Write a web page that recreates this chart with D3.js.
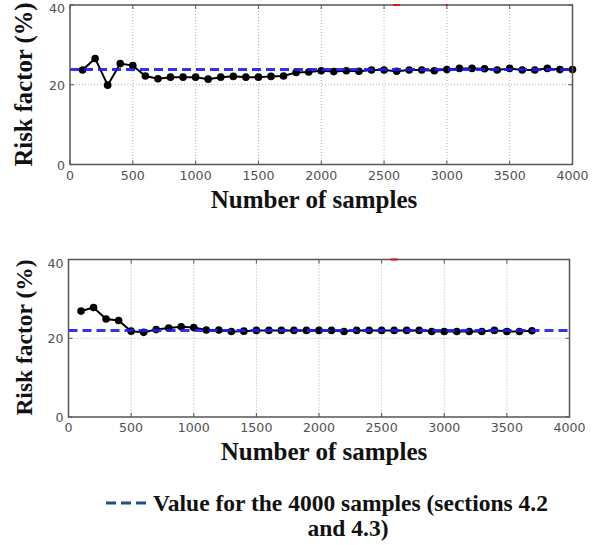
<!DOCTYPE html>
<html>
<head>
<meta charset="utf-8">
<script src="https://cdn.jsdelivr.net/npm/d3@7"></script>
<style>
  body { margin: 0; background: #fff; }
  svg { display: block; }
  .tick-lbl { font-family: "DejaVu Sans", sans-serif; font-size: 12.6px; fill: #505050; }
  .title { font-family: "Liberation Serif", "Times New Roman", Times, serif; font-weight: bold; fill: #111; }
</style>
</head>
<body>
<svg id="chart" width="608" height="545"></svg>
<script>
// sample sizes (x values)
var samplesTop = [100, 200, 300, 400, 500, 600, 700, 800, 900, 1000,
    1100, 1200, 1300, 1400, 1500, 1600, 1700, 1800, 1900, 2000,
    2100, 2200, 2300, 2400, 2500, 2600, 2700, 2800, 2900, 3000,
    3100, 3200, 3300, 3400, 3500, 3600, 3700, 3800, 3900, 4000];
var riskTop = [23.7, 26.6, 19.9, 25.3, 24.8, 22.2, 21.5, 21.9, 21.9, 21.9,
    21.4, 21.9, 22.1, 21.9, 21.9, 22.1, 22.2, 23.1, 23.2, 23.5,
    23.3, 23.5, 23.4, 23.7, 23.7, 23.4, 23.7, 23.7, 23.5, 23.8,
    24.1, 24.1, 24.0, 23.7, 24.1, 23.7, 23.7, 24.1, 23.8, 23.8];
var refTop = 23.8;

var samplesBottom = [100, 200, 300, 400, 500, 600, 700, 800, 900, 1000,
    1100, 1200, 1300, 1400, 1500, 1600, 1700, 1800, 1900, 2000,
    2100, 2200, 2300, 2400, 2500, 2600, 2700, 2800, 2900, 3000,
    3100, 3200, 3300, 3400, 3500, 3600, 3700];
var riskBottom = [26.9, 27.8, 24.9, 24.5, 21.8, 21.5, 22.2, 22.6, 22.9, 22.7,
    22.1, 22.1, 21.7, 21.8, 22.0, 22.0, 22.0, 22.0, 22.0, 22.0,
    22.0, 21.7, 22.0, 22.0, 22.0, 22.0, 22.0, 22.0, 21.7, 21.7,
    21.7, 21.7, 21.7, 22.0, 21.7, 21.7, 21.9];
var refBottom = 22.0;

var xTicks = [0, 500, 1000, 1500, 2000, 2500, 3000, 3500, 4000];
var yTicks = [0, 20, 40];
var redMarks = [2600, 3000];

var legendLine1 = "Value for the 4000 samples (sections 4.2";
var legendLine2 = "and 4.3)";

var svg = d3.select("#chart");

function drawPanel(box, xs, ys, ref, marks) {
    var xScale = d3.scaleLinear().domain([0, 4000]).range([box.left, box.right]);
    var yScale = d3.scaleLinear().domain([0, 40]).range([box.bottom, box.top]);
    var g = svg.append("g");

    // dotted grid
    g.selectAll(".gx").data(xTicks.slice(1, -1)).enter().append("line")
        .attr("x1", function (d) { return xScale(d); })
        .attr("x2", function (d) { return xScale(d); })
        .attr("y1", box.top).attr("y2", box.bottom)
        .style("stroke", "#b0b0b0").style("stroke-dasharray", "1,2");
    g.selectAll(".gy").data([20]).enter().append("line")
        .attr("x1", box.left).attr("x2", box.right)
        .attr("y1", function (d) { return yScale(d); })
        .attr("y2", function (d) { return yScale(d); })
        .style("stroke", "#b0b0b0").style("stroke-dasharray", "1,2");

    // inward ticks on all sides
    xTicks.forEach(function (t) {
        g.append("line").attr("x1", xScale(t)).attr("x2", xScale(t))
            .attr("y1", box.bottom).attr("y2", box.bottom - 4).style("stroke", "#555");
        g.append("line").attr("x1", xScale(t)).attr("x2", xScale(t))
            .attr("y1", box.top).attr("y2", box.top + 4).style("stroke", "#555");
    });
    yTicks.forEach(function (t) {
        g.append("line").attr("x1", box.left).attr("x2", box.left + 4)
            .attr("y1", yScale(t)).attr("y2", yScale(t)).style("stroke", "#555");
        g.append("line").attr("x1", box.right).attr("x2", box.right - 4)
            .attr("y1", yScale(t)).attr("y2", yScale(t)).style("stroke", "#555");
    });

    // tick labels
    g.selectAll(".xl").data(xTicks).enter().append("text")
        .attr("class", "tick-lbl")
        .attr("x", function (d) { return xScale(d); })
        .attr("y", box.bottom + 15)
        .attr("text-anchor", "middle")
        .text(function (d) { return d; });
    g.selectAll(".yl").data(yTicks).enter().append("text")
        .attr("class", "tick-lbl")
        .attr("x", box.left - 5)
        .attr("y", function (d) { return yScale(d) + (d === 40 ? 8 : 5); })
        .attr("text-anchor", "end")
        .text(function (d) { return d; });

    // data line + markers
    var pts = xs.map(function (x, i) { return [x, ys[i]]; });
    var line = d3.line()
        .x(function (d) { return xScale(d[0]); })
        .y(function (d) { return yScale(d[1]); });
    g.append("path").datum(pts).attr("d", line)
        .style("fill", "none").style("stroke", "#000").style("stroke-width", 2);
    g.selectAll(".dot").data(pts).enter().append("circle")
        .attr("cx", function (d) { return xScale(d[0]); })
        .attr("cy", function (d) { return yScale(d[1]); })
        .attr("r", 3.8).style("fill", "#000");

    // reference dashed line
    g.append("line")
        .attr("x1", xScale(0)).attr("x2", xScale(4000))
        .attr("y1", yScale(ref)).attr("y2", yScale(ref))
        .style("stroke", "#1c1cf0").style("stroke-width", 3)
        .style("stroke-dasharray", "9,5").style("opacity", 0.9);

    // frame
    g.append("rect")
        .attr("x", box.left).attr("y", box.top)
        .attr("width", box.right - box.left).attr("height", box.bottom - box.top)
        .style("fill", "none").style("stroke", "#555").style("stroke-width", 1.5);

    // little red marks on the top border
    marks.forEach(function (m, i) {
        var w = i === 0 ? 7 : 2;
        g.append("line")
            .attr("x1", xScale(m) - w / 2).attr("x2", xScale(m) + w / 2)
            .attr("y1", box.top).attr("y2", box.top)
            .style("stroke", "#e01010").style("stroke-width", 2);
    });

    // axis titles
    g.append("text").attr("class", "title")
        .attr("transform", "translate(32," + box.yTitleY + ") rotate(-90)")
        .attr("text-anchor", "middle")
        .style("font-size", box.yTitleSize + "px")
        .text("Risk factor (%)");
    g.append("text").attr("class", "title")
        .attr("x", box.titleX).attr("y", box.bottom + 43)
        .attr("text-anchor", "middle")
        .style("font-size", "25px")
        .text("Number of samples");
}

drawPanel({ left: 70, right: 572.5, top: 5, bottom: 164.5, titleX: 314, yTitleY: 84.5, yTitleSize: 24.7 },
    samplesTop, riskTop, refTop, redMarks);
drawPanel({ left: 68.5, right: 569.5, top: 259.5, bottom: 417, titleX: 324, yTitleY: 337.5, yTitleSize: 23.5 },
    samplesBottom, riskBottom, refBottom, redMarks.slice(0, 1));

// legend
var leg = svg.append("g");
leg.append("line")
    .attr("x1", 106).attr("x2", 146).attr("y1", 503).attr("y2", 503)
    .style("stroke", "#1f4f85").style("stroke-width", 3).style("stroke-dasharray", "10,5");
leg.append("text").attr("class", "title")
    .attr("x", 153).attr("y", 511)
    .style("font-size", "23.5px")
    .text(legendLine1);
leg.append("text").attr("class", "title")
    .attr("x", 348).attr("y", 536)
    .attr("text-anchor", "middle")
    .style("font-size", "23.5px")
    .text(legendLine2);
</script>
</body>
</html>
